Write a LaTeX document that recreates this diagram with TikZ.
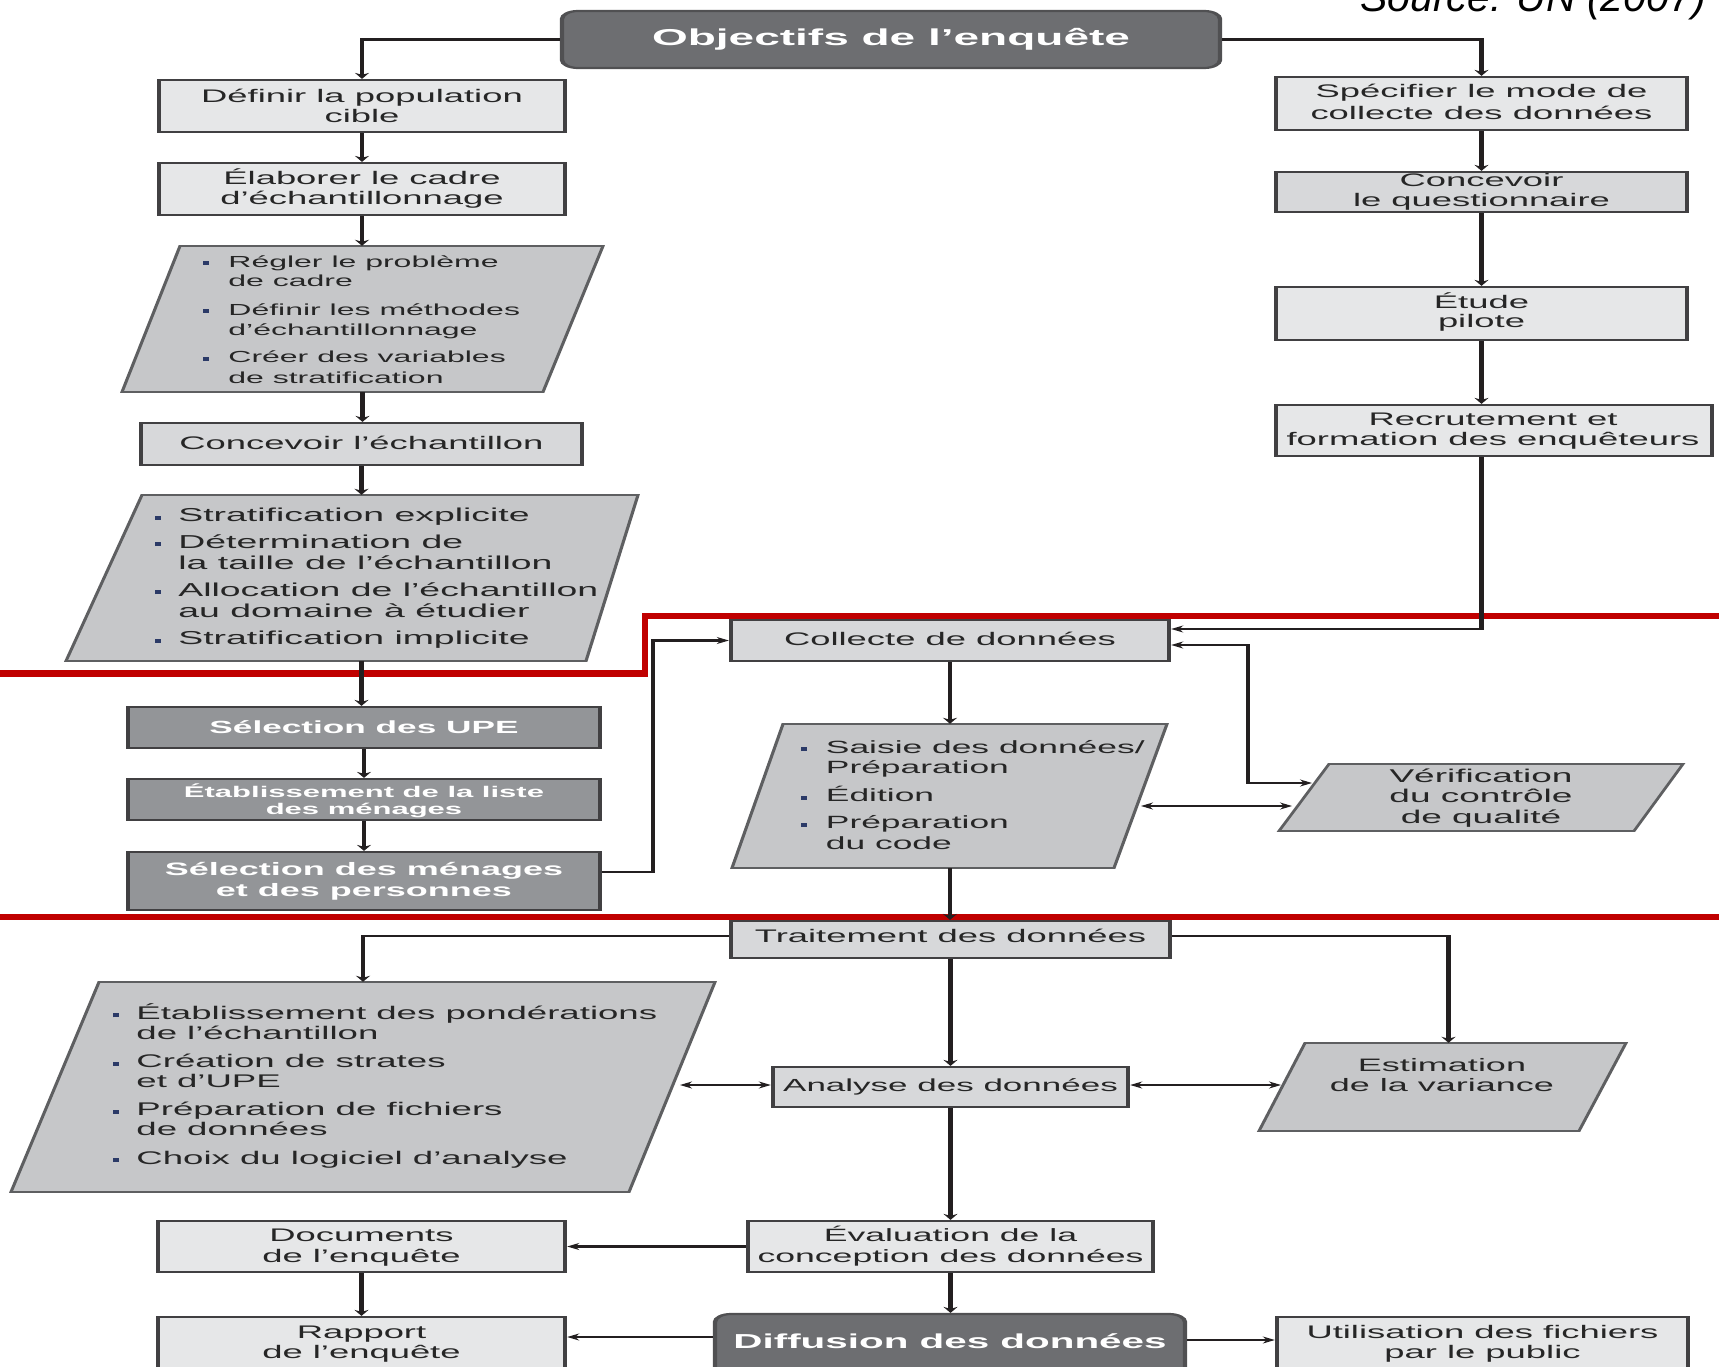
\documentclass[tikz,border=0pt]{standalone}
\usepackage{fontspec}
\setmainfont{Liberation Sans}
\usetikzlibrary{arrows.meta,fit}
\definecolor{lt}{HTML}{E6E7E8}
\definecolor{lt2}{HTML}{D7D8DA}
\definecolor{pg}{HTML}{C6C7C9}
\definecolor{pgb}{HTML}{5E5F61}
\definecolor{md}{HTML}{939598}
\definecolor{dk}{HTML}{6D6E71}
\definecolor{dkb}{HTML}{505052}
\definecolor{bd}{HTML}{414042}
\definecolor{tx}{HTML}{262626}
\definecolor{ln}{HTML}{231F20}
\definecolor{rd}{HTML}{C00000}
\definecolor{bu}{HTML}{2B3A67}
\newcommand\bi[1]{\makebox[#1][l]{\textcolor{bu}{\rule[2pt]{3pt}{4pt}}}}
\newcommand\twol[2]{\begin{tabular}[t]{@{}c@{}}#1\\#2\end{tabular}}
\tikzset{
  box/.style={draw=bd, line width=2.2pt, inner sep=0pt},
  lbox/.style={box, fill=lt},
  gbox/.style={box, fill=lt2},
  mbox/.style={box, fill=md},
  dbox/.style={box, fill=dk, draw=dkb, rounded corners=8pt},
  ghost/.style={inner sep=0pt},
  para/.style={draw=pgb, fill=pg, line width=1.6pt, line join=miter},
  ptext/.style={inner sep=0pt, text=tx, anchor=base west},
  ctext/.style={inner sep=0pt, text=tx, anchor=base},
  btext/.style={ctext, font=\fontsize{18.2}{20}\selectfont},
  wtext/.style={inner sep=0pt, anchor=base, text=white},
  arr/.style={draw=ln, line width=2.2pt, -{Stealth[length=6pt,width=7pt]}},
  darr/.style={draw=ln, line width=2.2pt, {Stealth[length=6pt,width=7pt]}-{Stealth[length=6pt,width=7pt]}},
  redl/.style={draw=rd, line width=6.5pt, line join=miter},
  src/.style={inner sep=0pt, anchor=base west, font=\itshape\fontsize{41}{41}\selectfont, text=black}
}
\begin{document}
\begin{tikzpicture}[x=1pt,y=-1pt]
\useasboundingbox (0,0) rectangle (1719,1367);
\fill[white] (0,0) rectangle (1719,1367);
\draw[redl] (-10,673.5) -- (645,673.5) -- (645,616) -- (1730,616);
\draw[redl] (-10,917) -- (1730,917);
\node[src] (src) at (1360,12) {Source: UN (2007)};
\begin{scope}[x=0.5pt, y=-1pt, transform canvas={xscale=2}]
% parallelograms
\draw[para] (180,246) -- (603,246) -- (543,392) -- (122,392) -- cycle;
\node[ghost, fit={(122,246) (603,392)}] (p1) {};
\draw[para] (142,495) -- (638,495) -- (586,661) -- (66,661) -- cycle;
\node[ghost, fit={(66,495) (638,661)}] (p2) {};
\draw[para] (783,724) -- (1167,724) -- (1114,868) -- (732,868) -- cycle;
\node[ghost, fit={(732,724) (1167,868)}] (ps) {};
\draw[para] (1329,764) -- (1683,764) -- (1634,831) -- (1279,831) -- cycle;
\node[ghost, fit={(1279,764) (1683,831)}] (pv) {};
\draw[para] (99,982) -- (715,982) -- (629,1192) -- (11,1192) -- cycle;
\node[ghost, fit={(11,982) (715,1192)}] (p3) {};
\draw[para] (1305,1043) -- (1626,1043) -- (1579,1131) -- (1259,1131) -- cycle;
\node[ghost, fit={(1259,1043) (1626,1131)}] (pe) {};
% parallelogram texts
\node[ptext, font=\fontsize{16}{20}\selectfont] (p1t) at (203,267) {\begin{tabular}[t]{@{}l@{}l@{}}
\bi{12.5pt} & Régler le problème\\ & de cadre\\[8pt]
\bi{12.5pt} & Définir les méthodes\\ & d’échantillonnage\\[8pt]
\bi{12.5pt} & Créer des variables\\ & de stratification
\end{tabular}};
\node[ptext, font=\fontsize{18.7}{21}\selectfont] (p2t) at (155,521.5) {\begin{tabular}[t]{@{}l@{}l@{}}
\bi{11.5pt} & Stratification explicite\\[5.5pt]
\bi{11.5pt} & Détermination de\\ & la taille de l’échantillon\\[6pt]
\bi{11.5pt} & Allocation de l’échantillon\\ & au domaine à étudier\\[6.5pt]
\bi{11.5pt} & Stratification implicite
\end{tabular}};
\node[ptext, font=\fontsize{17.7}{20.5}\selectfont] (pst) at (800.7,753) {\begin{tabular}[t]{@{}l@{}l@{}}
\bi{12.4pt} & Saisie des données/\\ & Préparation\\[6.5pt]
\bi{12.4pt} & Édition\\[6.5pt]
\bi{12.4pt} & Préparation\\ & du code
\end{tabular}};
\node[ctext, font=\fontsize{18.5}{20.5}\selectfont] (pvt) at (1481,782) {\begin{tabular}[t]{@{}c@{}}
Vérification\\du contrôle\\de qualité
\end{tabular}};
\node[ptext, font=\fontsize{18.3}{20}\selectfont] (p3t) at (112.4,1019.3) {\begin{tabular}[t]{@{}l@{}l@{}}
\bi{11.8pt} & Établissement des pondérations\\ & de l’échantillon\\[8.3pt]
\bi{11.8pt} & Création de strates\\ & et d’UPE\\[8.3pt]
\bi{11.8pt} & Préparation de fichiers\\ & de données\\[8.3pt]
\bi{11.8pt} & Choix du logiciel d’analyse
\end{tabular}};
\node[ctext, font=\fontsize{18}{20}\selectfont] (pet) at (1442,1071.7) {\twol{Estimation}{de la variance}};
% boxes
\node[dbox, fit={(562,11) (1220,68)}] (obj) {};
\node[wtext, font=\bfseries\fontsize{23}{25}\selectfont] (objt) at (891,46) {Objectifs de l’enquête};
\node[lbox, fit={(159,80) (565,132)}] (def) {};
\node[btext] (deft) at (362,102.7) {\twol{Définir la population}{cible}};
\node[lbox, fit={(159,163) (565,215)}] (ela) {};
\node[btext] (elat) at (362,184.5) {\twol{Élaborer le cadre}{d’échantillonnage}};
\node[gbox, fit={(141,423) (582,465)}] (conc) {};
\node[btext] (conct) at (361.5,449.5) {Concevoir l’échantillon};
\node[mbox, fit={(128,707) (600,748)}] (upe) {};
\node[wtext, font=\bfseries\fontsize{17.6}{20}\selectfont] (upet) at (364,733) {Sélection des UPE};
\node[mbox, fit={(128,779) (600,820)}] (liste) {};
\node[wtext, font=\bfseries\fontsize{15.5}{17}\selectfont] (listet) at (364,797) {\twol{Établissement de la liste}{des ménages}};
\node[mbox, fit={(128,852) (600,910)}] (men) {};
\node[wtext, font=\bfseries\fontsize{18}{21}\selectfont] (ment) at (364,875) {\twol{Sélection des ménages}{et des personnes}};
\node[lbox, fit={(1276,77) (1687,130)}] (spec) {};
\node[ctext, font=\fontsize{18.2}{22}\selectfont] (spect) at (1481.5,98) {\twol{Spécifier le mode de}{collecte des données}};
\node[gbox, fit={(1276,172) (1687,212)}] (quest) {};
\node[btext] (questt) at (1481.5,187) {\twol{Concevoir}{le questionnaire}};
\node[lbox, fit={(1276,287) (1687,340)}] (etude) {};
\node[btext] (etudet) at (1481.5,308) {\twol{Étude}{pilote}};
\node[lbox, fit={(1276,405) (1712,456)}] (recr) {};
\node[btext] (recrt) at (1493,425) {\twol{Recrutement et}{formation des enquêteurs}};
\node[gbox, fit={(731,620) (1169,661)}] (coll) {};
\node[btext] (collt) at (950,645.5) {Collecte de données};
\node[gbox, fit={(731,921) (1170,958)}] (trait) {};
\node[btext] (traitt) at (950.5,942) {Traitement des données};
\node[gbox, fit={(773,1067) (1128,1107)}] (ana) {};
\node[ctext, font=\fontsize{17.5}{20}\selectfont] (anat) at (950.5,1091) {Analyse des données};
\node[lbox, fit={(748,1221) (1153,1272)}] (ev) {};
\node[ctext, font=\fontsize{17.8}{21}\selectfont] (evt) at (950.5,1241.5) {\twol{Évaluation de la}{conception des données}};
\node[lbox, fit={(158,1221) (565,1272)}] (docs) {};
\node[ctext, font=\fontsize{18.2}{21}\selectfont] (docst) at (361.5,1241.5) {\twol{Documents}{de l’enquête}};
\node[lbox, fit={(158,1317) (565,1400)}] (rap) {};
\node[btext] (rapt) at (361.5,1338) {\twol{Rapport}{de l’enquête}};
\node[dbox, fit={(715,1314) (1185,1400)}] (diff) {};
\node[wtext, font=\bfseries\fontsize{20.2}{22}\selectfont] (difft) at (950,1348) {Diffusion des données};
\node[lbox, fit={(1277,1317) (1688,1400)}] (util) {};
\node[btext] (utilt) at (1482.5,1338) {\twol{Utilisation des fichiers}{par le public}};
% free-end coordinates on slanted sides
\coordinate (vq) at (1312,783);
\coordinate (sR) at (1141,806);
\coordinate (vL) at (1292,806);
\coordinate (p3R) at (680,1085);
\coordinate (eL) at (1281,1085);
% connectors
\draw[arr] (obj.west) -| (def.north);
\draw[arr] (obj.east) -| (spec.north);
\draw[arr] (def.south) -- (ela.north);
\draw[arr] (ela.south) -- (ela.south |- p1.north);
\draw[arr] (p1.south) -- (p1.south |- conc.north);
\draw[arr] (conc.south) -- (conc.south |- p2.north);
\draw[arr] (conc.south |- p2.south) -- (conc.south |- upe.north);
\draw[arr] (upe.south) -- (liste.north);
\draw[arr] (liste.south) -- (men.north);
\draw[arr] ([yshift=9pt]men.east) -| ([xshift=-38pt]coll.west) -- (coll.west);
\draw[arr] (spec.south) -- (quest.north);
\draw[arr] (quest.south) -- (etude.north);
\draw[arr] (etude.south) -- (etude.south |- recr.north);
\draw[arr] (etude.south |- recr.south) |- ([yshift=11.5pt]coll.east);
\draw[darr] ([yshift=-4.5pt]coll.east) -- ++(77,0) |- (vq);
\draw[arr] (coll.south) -- (coll.south |- ps.north);
\draw[darr] (sR) -- (vL);
\draw[arr] (coll.south |- ps.south) -- (coll.south |- trait.north);
\draw[arr] ([yshift=3.8pt]trait.west) -| (p3.north);
\draw[arr] ([yshift=3.8pt]trait.east) -| ([xshift=3pt]pe.north);
\draw[arr] (trait.south) -- (trait.south |- ana.north);
\draw[darr] (p3R) -- (p3R -| ana.west);
\draw[darr] (ana.east |- eL) -- (eL);
\draw[arr] (ana.south) -- (ana.south |- ev.north);
\draw[arr] (ev.west) -- (docs.east);
\draw[arr] (docs.south) -- (rap.north);
\draw[arr] (ev.south) -- (ev.south |- diff.north);
\draw[arr] ([yshift=20pt]diff.west) -- ([yshift=20pt]diff.west -| rap.east);
\draw[arr] ([yshift=17pt]diff.east) -- ([yshift=17pt]diff.east -| util.west);
\end{scope}
\end{tikzpicture}
\end{document}
